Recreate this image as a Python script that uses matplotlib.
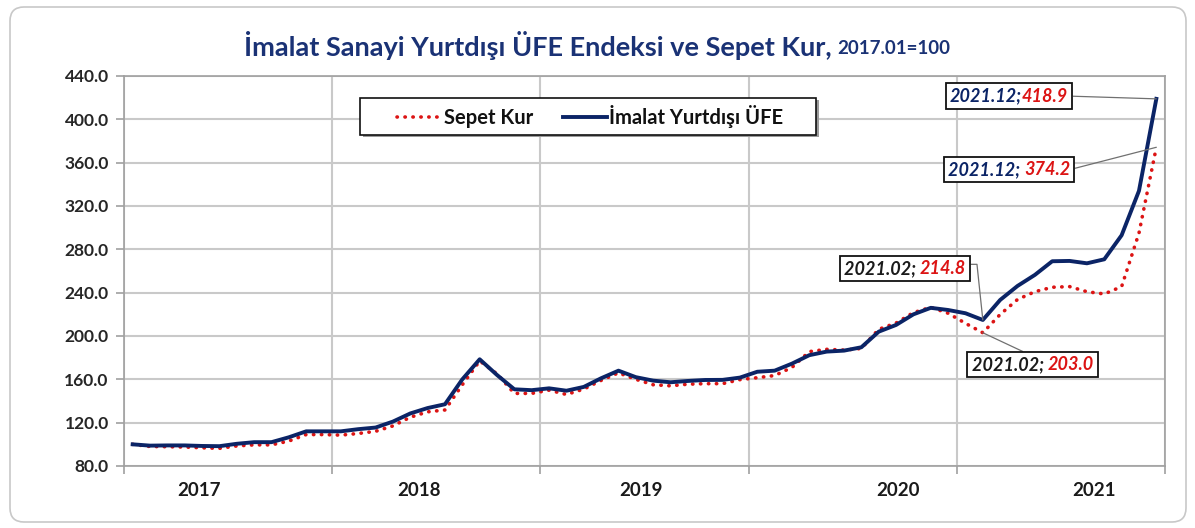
import numpy as np
import matplotlib.pyplot as plt
from matplotlib.patches import FancyBboxPatch, Rectangle
from matplotlib.transforms import IdentityTransform, offset_copy
from matplotlib.offsetbox import TextArea, HPacker, AnnotationBbox

plt.rcParams['font.family'] = ['Lato', 'DejaVu Sans']

years = [2017, 2018, 2019, 2020, 2021]
months = [f"{y}.{m:02d}" for y in years for m in range(1, 13)]

# İmalat Sanayi Yurtdışı ÜFE (2017.01=100)
ufe = [100.0, 98.8, 99.0, 99.0, 98.5, 98.3, 100.5, 102.0, 102.0, 106.5, 112.0, 112.0,
       112.0, 114.0, 115.5, 121.0, 128.5, 133.5, 137.0, 160.0, 178.5, 164.0, 150.8, 150.0,
       151.7, 149.5, 153.0, 161.0, 168.0, 162.0, 158.8, 157.3, 158.5, 159.4, 159.5, 161.6,
       167.0, 168.0, 174.5, 182.3, 185.6, 186.5, 189.6, 204.0, 210.2, 220.0, 226.0, 224.0,
       221.0, 214.8, 233.3, 246.2, 256.4, 269.0, 269.3, 267.1, 270.8, 293.0, 334.0, 418.9]

# Sepet Kur (2017.01=100)
sepet = [100.0, 98.0, 97.8, 97.5, 96.8, 96.3, 98.5, 99.5, 99.5, 103.0, 109.0, 109.0,
         108.5, 110.0, 112.0, 117.0, 125.0, 130.0, 131.7, 155.0, 177.0, 165.0, 147.0, 147.0,
         150.0, 146.0, 151.0, 159.0, 166.0, 160.0, 155.0, 154.0, 155.5, 156.0, 156.0, 159.7,
         161.5, 163.5, 171.0, 185.6, 187.7, 187.0, 188.5, 206.2, 212.0, 221.6, 226.5, 221.0,
         211.7, 203.0, 219.9, 233.7, 240.9, 245.0, 245.6, 240.9, 238.8, 245.6, 295.0, 374.2]

yticks = list(range(80, 441, 40))

NAVY = '#0b2466'
RED = '#dc1414'
GRID = '#c9c9c9'
TITLE = '#1a3275'

fig = plt.figure(figsize=(11.95, 5.28), dpi=100)
# rounded outer frame
fig.patches.append(FancyBboxPatch((10, 6), 1176, 515, boxstyle="round,pad=0,rounding_size=14",
                                  transform=IdentityTransform(), facecolor='none',
                                  edgecolor='#c8c8c8', linewidth=1.2, zorder=-1))

ax = fig.add_axes([124 / 1195, 62 / 528, 1041 / 1195, 390 / 528])
x = np.arange(len(months))

ax.plot(x, sepet, color=RED, lw=2.6, linestyle=(0, (0.1, 2.1)), dash_capstyle='round',
        label='Sepet Kur', zorder=3)
ax.plot(x, ufe, color=NAVY, lw=2.8, label='İmalat Yurtdışı ÜFE', zorder=4,
        solid_joinstyle='round')

ax.set_xlim(-0.5, len(months) - 0.5)
ax.set_ylim(80, 440)
ax.set_yticks(yticks)
ax.set_yticklabels([f"{v:.1f}" for v in yticks], fontsize=12.5, fontweight='bold', color='#262626')

# year boundaries as gridlines / ticks
bounds = [12 * k - 0.5 for k in range(len(years) + 1)]
ax.set_xticks(bounds)
ax.set_xticklabels([])
ax.tick_params(axis='x', length=6, color='#a0a0a0', width=1.2)
ax.tick_params(axis='y', length=6, color='#a0a0a0', width=1.2, pad=5)
ax.grid(True, color=GRID, lw=1.5, zorder=0)
ax.set_axisbelow(True)
for s in ax.spines.values():
    s.set_color('#a0a0a0')
    s.set_linewidth(1.2)

year_pos = [3.8, 16.5, 29.3, 44.1, 55.4]
for yr, p in zip(years, year_pos):
    ax.text(p, -0.062, str(yr), transform=ax.get_xaxis_transform(), ha='center', va='center',
            fontsize=13.5, fontweight='bold', color='#1a1a1a')

# title: big part + smaller base note, centred as one line
t1 = fig.text(0, 0.913, 'İmalat Sanayi Yurtdışı ÜFE Endeksi ve Sepet Kur,', ha='left',
              va='center', fontsize=19.5, fontweight='bold', color=TITLE)
t2 = fig.text(0, 0.908, '2017.01=100', ha='left', va='center',
              fontsize=13.5, fontweight='bold', color=TITLE)
fig.canvas.draw()
w1 = t1.get_window_extent().width
w2 = t2.get_window_extent().width
x0 = 597 - (w1 + 6 + w2) / 2
t1.set_x(x0 / 1195)
t2.set_x((x0 + w1 + 6) / 1195)

# legend without its own frame; frame + shadow drawn by hand (wider side margins)
leg = ax.legend(loc='center', bbox_to_anchor=(0.448, 0.897), ncol=2, fontsize=14.5,
                frameon=False, handlelength=2.2, handletextpad=0.1, columnspacing=1.5)
for txt in leg.get_texts():
    txt.set_fontweight('bold')
    txt.set_color('#111111')
leg.set_zorder(8)
fx0, fx1, fy0, fy1 = 0.227, 0.665, 0.849, 0.944
shadow_tr = offset_copy(ax.transAxes, fig=fig, x=2.5, y=-2.5, units='dots')
ax.add_patch(Rectangle((fx0, fy0), fx1 - fx0, fy1 - fy0, transform=shadow_tr,
                       facecolor='#9a9a9a', edgecolor='none', zorder=6))
ax.add_patch(Rectangle((fx0, fy0), fx1 - fx0, fy1 - fy0, transform=ax.transAxes,
                       facecolor='white', edgecolor='#111111', lw=1.2, zorder=7))


def label_box(i, vals, first_color, sep, offset, relpos, conn='arc3'):
    style = dict(fontsize=13, fontstyle='italic', fontweight='bold')
    parts = [TextArea(months[i] + ';' + sep, textprops=dict(color=first_color, **style)),
             TextArea(f"{vals[i]:.1f}", textprops=dict(color=RED, **style))]
    box = HPacker(children=parts, pad=0, sep=0, align='baseline')
    ab = AnnotationBbox(box, (x[i], vals[i]), xybox=offset, boxcoords='offset points',
                        pad=0.35, bboxprops=dict(boxstyle='square', ec='#111111', lw=1.3, fc='white'),
                        arrowprops=dict(arrowstyle='-', color='#707070', lw=0.9, relpos=relpos,
                                        shrinkA=0, shrinkB=0, connectionstyle=conn),
                        zorder=6)
    ax.add_artist(ab)


last = len(months) - 1
feb21 = months.index('2021.02')
label_box(last, ufe, NAVY, '', (-106, 2), (1, 0.5))
label_box(last, sepet, NAVY, ' ', (-106, -16), (1, 0.5))
label_box(feb21, ufe, '#1a1a1a', ' ', (-56, 37), (1, 0.75), 'angle,angleA=0,angleB=96,rad=0')
label_box(feb21, sepet, '#1a1a1a', ' ', (36, -23), (0.5, 1))

fig.savefig('out.png', dpi=100)
